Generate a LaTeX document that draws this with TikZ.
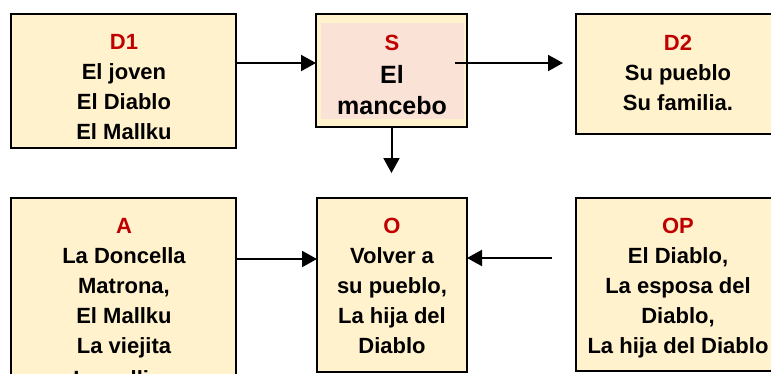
\documentclass[tikz,border=0pt]{standalone}
\usepackage{fontspec}
\setmainfont{Liberation Sans}
\usetikzlibrary{arrows.meta}
\definecolor{cream}{HTML}{FFF2CC}
\definecolor{pinkfill}{HTML}{FBE2D6}
\definecolor{redtxt}{HTML}{C00000}
\begin{document}
\begin{tikzpicture}[x=1pt,y=-1pt,
  box/.style={draw=black, fill=cream, line width=2.5pt, rectangle, inner sep=0pt, outer sep=0pt},
  txt/.style={inner sep=0pt, anchor=base, font=\fontsize{22}{30}\selectfont\bfseries},
  arr/.style={draw=black, line width=2pt, -{Triangle[length=15pt,width=16pt]}},
  ttl/.style={color=redtxt}]
\useasboundingbox (0,0) rectangle (771,373);
\clip (0,0) rectangle (771,373);
% boxes
\node[box, minimum width=225pt, minimum height=134pt] (D1) at (123.5,81) {};
\node[box, minimum width=151pt, minimum height=113pt] (S) at (391.5,70.5) {};
\fill[pinkfill] (321,23) rectangle (464,119);
\node[box, minimum width=204pt, minimum height=120pt] (D2) at (678,74) {};
\node[box, minimum width=225pt, minimum height=222pt] (A) at (123.5,309) {};
\node[box, minimum width=150pt, minimum height=174pt] (O) at (392,285) {};
\node[box, minimum width=204pt, minimum height=173pt] (OP) at (678,284.5) {};
% texts
\node[txt] (tD1) at (124,49) {\begin{tabular}[t]{@{}c@{}}\textcolor{redtxt}{D1}\\ El joven\\ El Diablo\\ El Mallku\end{tabular}};
\node[txt] (tS) at (392,50) {\begin{tabular}[t]{@{}c@{}}\textcolor{redtxt}{S}\\[3pt] {\fontsize{25}{31}\selectfont El}\\[1pt] {\fontsize{25}{31}\selectfont mancebo}\end{tabular}};
\node[txt] (tD2) at (678,50) {\begin{tabular}[t]{@{}c@{}}\textcolor{redtxt}{D2}\\ Su pueblo\\ Su familia.\end{tabular}};
\node[txt] (tA) at (124,233) {\begin{tabular}[t]{@{}c@{}}\textcolor{redtxt}{A}\\ La Doncella\\ Matrona,\\ El Mallku\\ La viejita\\[3pt] La gallina\end{tabular}};
\node[txt] (tO) at (392,233) {\begin{tabular}[t]{@{}c@{}}\textcolor{redtxt}{O}\\ Volver a\\ su pueblo,\\ La hija del\\ Diablo\end{tabular}};
\node[txt] (tOP) at (678,233) {\begin{tabular}[t]{@{}c@{}}\textcolor{redtxt}{OP}\\ El Diablo,\\ La esposa del\\ Diablo,\\ La hija del Diablo\end{tabular}};
% arrows
\coordinate (r1) at (0,63);
\coordinate (r2) at (0,259);
\coordinate (r3) at (0,258);
\coordinate (r4) at (0,173);
\draw[arr] (D1.east |- r1) -- (S.west |- r1);
\draw[arr] ([xshift=-12pt]S.east |- r1) -- ([xshift=-13pt]D2.west |- r1);
\draw[arr] (S.south) -- (S.south |- r4);
\draw[arr] (A.east |- r2) -- (O.west |- r2);
\draw[arr] ([xshift=-24pt]OP.west |- r3) -- (O.east |- r3);
\end{tikzpicture}
\end{document}
